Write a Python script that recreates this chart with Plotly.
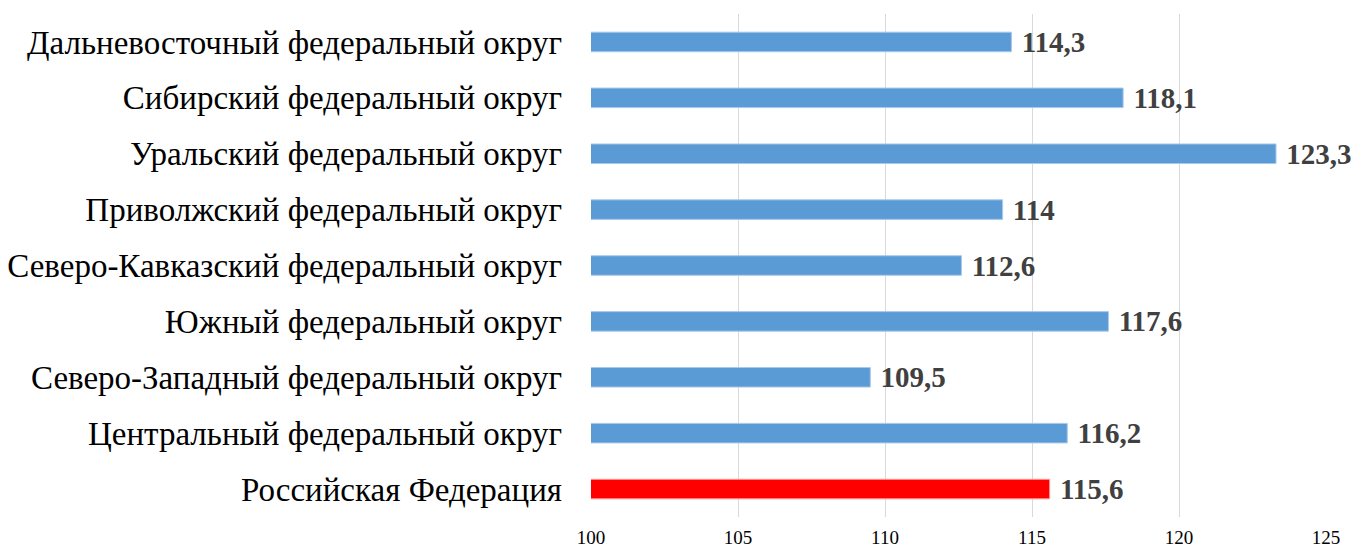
import plotly.graph_objects as go

categories = [
    "Российская Федерация",
    "Центральный федеральный округ",
    "Северо-Западный федеральный округ",
    "Южный федеральный округ",
    "Северо-Кавказский федеральный округ",
    "Приволжский федеральный округ",
    "Уральский федеральный округ",
    "Сибирский федеральный округ",
    "Дальневосточный федеральный округ",
]
values = [115.6, 116.2, 109.5, 117.6, 112.6, 114.0, 123.3, 118.1, 114.3]
colors = ["#FF0000"] + ["#5B9BD5"] * 8
line_colors = ["#FF9999"] + ["#A9C9EA"] * 8
tick_vals = [100, 105, 110, 115, 120, 125]

labels = [" " + f"{v:g}".replace(".", ",") for v in values]

fig = go.Figure(go.Bar(
    y=categories,
    x=values,
    orientation="h",
    marker=dict(color=colors, line=dict(color=line_colors, width=1)),
    text=labels,
    textposition="outside",
    textfont=dict(family="Liberation Serif", size=29, color="#404040", weight="bold"),
    cliponaxis=False,
    constraintext="none",
    hoverinfo="skip",
))

fig.update_layout(
    width=1357, height=547,
    margin=dict(l=591, r=31, t=14, b=30, autoexpand=False),
    paper_bgcolor="white", plot_bgcolor="white",
    bargap=0.65,
    showlegend=False,
    font=dict(family="Liberation Serif", color="black"),
    xaxis=dict(
        range=[100, 125], tickvals=tick_vals,
        showgrid=True, gridcolor="#D9D9D9", gridwidth=1,
        zeroline=False, showline=False,
        tickfont=dict(size=19, color="black"),
        ticks="", ticklabelstandoff=7,
    ),
    yaxis=dict(
        tickfont=dict(size=33, color="black"),
        showgrid=False, zeroline=False, showline=False,
        ticks="", ticklabelstandoff=28,
    ),
)

fig.write_html(
    "out.html",
    config={"displayModeBar": False},
    post_script="document.body.style.margin='0';document.body.style.overflow='hidden';",
)
